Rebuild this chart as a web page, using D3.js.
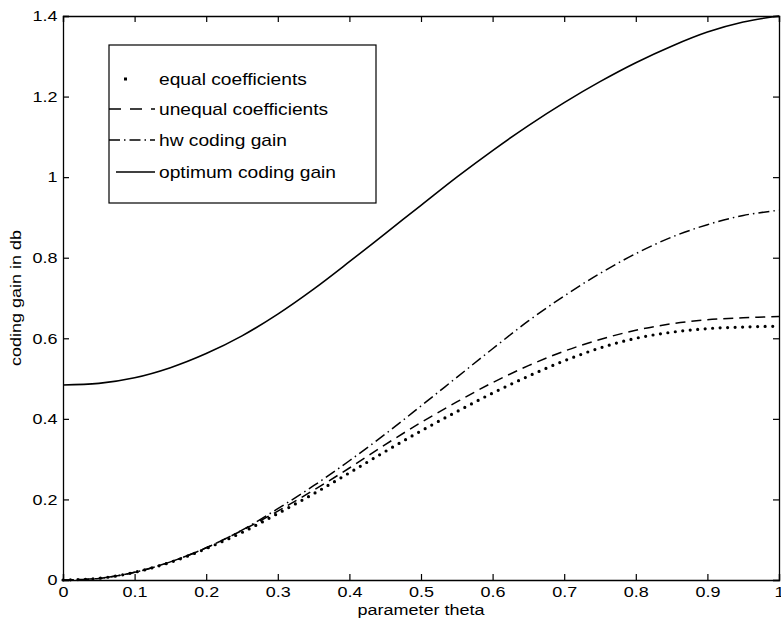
<!DOCTYPE html>
<html>
<meta charset="utf-8">
<script src="https://d3js.org/d3.v7.min.js"></script>
<body>
<style>
    body, html { margin: 0; padding: 0; background: #fff; overflow: hidden; }
    text { font-family: "Liberation Sans", Arial, sans-serif; fill: #000; }
</style>
<svg id="chart"></svg>
<script>
    // values
    var theta = [0, 0.05, 0.1, 0.15, 0.2, 0.25, 0.3, 0.35, 0.4, 0.45, 0.5,
                 0.55, 0.6, 0.65, 0.7, 0.75, 0.8, 0.85, 0.9, 0.95, 1];
    var equalCoef = [0, 0.004, 0.019, 0.044, 0.078, 0.118, 0.165, 0.214, 0.266, 0.319, 0.370,
                     0.418, 0.464, 0.506, 0.544, 0.576, 0.600, 0.615, 0.624, 0.628, 0.630];
    var unequalCoef = [0, 0.004, 0.019, 0.045, 0.080, 0.123, 0.171, 0.223, 0.278, 0.336, 0.391,
                       0.442, 0.490, 0.532, 0.568, 0.597, 0.620, 0.636, 0.646, 0.651, 0.654];
    var hwGain = [0, 0.004, 0.019, 0.045, 0.080, 0.124, 0.177, 0.234, 0.296, 0.362, 0.432,
                  0.503, 0.574, 0.643, 0.705, 0.761, 0.810, 0.851, 0.882, 0.905, 0.918];
    var optGain = [0.484, 0.488, 0.502, 0.527, 0.562, 0.606, 0.660, 0.722, 0.790, 0.860, 0.930,
                   1.000, 1.066, 1.128, 1.185, 1.237, 1.284, 1.325, 1.360, 1.385, 1.400];
    var xTicks = [0, 0.1, 0.2, 0.3, 0.4, 0.5, 0.6, 0.7, 0.8, 0.9, 1];
    var yTicks = [0, 0.2, 0.4, 0.6, 0.8, 1, 1.2, 1.4];
    var seriesNames = ["equal coefficients", "unequal coefficients", "hw coding gain", "optimum coding gain"];

    var width = 781, height = 627;
    var margin = { top: 16, right: 2, bottom: 47, left: 63 };
    var innerW = width - margin.left - margin.right;
    var innerH = height - margin.top - margin.bottom;
    var stretch = 1.2; // the scanned text is wider than it is tall

    var svg = d3.select("#chart").attr("width", width).attr("height", height);
    var g = svg.append("g").attr("transform", `translate(${margin.left},${margin.top})`);

    var x = d3.scaleLinear().domain([0, 1]).range([0, innerW]);
    var y = d3.scaleLinear().domain([0, 1.4]).range([innerH, 0]);

    var fmt = function (d) { return String(+d.toFixed(1)); };

    // axes with inward ticks, matlab style
    g.append("g").attr("transform", `translate(0,${innerH})`)
        .call(d3.axisBottom(x).tickValues(xTicks).tickSize(-6).tickPadding(6).tickFormat(fmt));
    g.append("g")
        .call(d3.axisLeft(y).tickValues(yTicks).tickSize(-6).tickPadding(4.5).tickFormat(fmt));
    g.append("g")
        .call(d3.axisTop(x).tickValues(xTicks).tickSize(-6).tickFormat(""));
    g.append("g").attr("transform", `translate(${innerW},0)`)
        .call(d3.axisRight(y).tickValues(yTicks).tickSize(-6).tickFormat(""));

    g.selectAll(".domain").attr("stroke", "#000").attr("stroke-width", 1.3);
    g.selectAll(".tick line").attr("stroke", "#000").attr("stroke-width", 1.2);
    g.selectAll(".tick text").style("font-size", "15px").attr("fill", "#000")
        .style("font-family", "'Liberation Sans', Arial, sans-serif")
        .attr("transform", `scale(${stretch},1)`);

    svg.append("g").attr("transform", `translate(${margin.left + innerW / 2},615) scale(${stretch},1)`)
        .append("text")
        .attr("text-anchor", "middle").style("font-size", "15px")
        .text("parameter theta");
    svg.append("g").attr("transform", `translate(21,${margin.top + innerH / 2}) rotate(-90) scale(${stretch},1)`)
        .append("text")
        .attr("text-anchor", "middle").style("font-size", "15px")
        .text("coding gain in db");

    var styles = [
        { data: equalCoef, dash: "0 7.5", width: 3.2, cap: "round" },
        { data: unequalCoef, dash: "10 6", width: 1.5, cap: "butt" },
        { data: hwGain, dash: "11 4 1.5 4", width: 1.5, cap: "butt" },
        { data: optGain, dash: null, width: 1.6, cap: "butt" }
    ];

    var line = d3.line()
        .x(function (d) { return x(d[0]); })
        .y(function (d) { return y(d[1]); })
        .curve(d3.curveCatmullRom.alpha(0.5));

    styles.forEach(function (s) {
        g.append("path")
            .datum(theta.map(function (t, i) { return [t, s.data[i]]; }))
            .attr("fill", "none")
            .attr("stroke", "#000")
            .attr("stroke-width", s.width)
            .attr("stroke-linecap", s.cap)
            .attr("stroke-dasharray", s.dash)
            .attr("d", line);
    });

    // legend
    var legend = svg.append("g").attr("transform", "translate(109,45)");
    legend.append("rect").attr("width", 267).attr("height", 158)
        .attr("fill", "#fff").attr("stroke", "#000").attr("stroke-width", 1.2);
    var rowY = [34, 64, 95, 127];
    seriesNames.forEach(function (name, i) {
        var s = styles[i];
        if (i === 0) {
            legend.append("rect").attr("x", 15).attr("y", rowY[i] - 1.5)
                .attr("width", 3).attr("height", 3).attr("fill", "#000");
        } else {
            legend.append("line")
                .attr("x1", i === 3 ? 7 : 0).attr("x2", 46)
                .attr("y1", rowY[i]).attr("y2", rowY[i])
                .attr("stroke", "#000").attr("stroke-width", s.width)
                .attr("stroke-dasharray", i === 1 ? "12 9" : s.dash);
        }
        legend.append("g").attr("transform", `translate(50,${rowY[i]}) scale(${stretch},1)`)
            .append("text")
            .attr("dy", "0.35em").style("font-size", "16px")
            .text(name);
    });
</script>
</body>
</html>
